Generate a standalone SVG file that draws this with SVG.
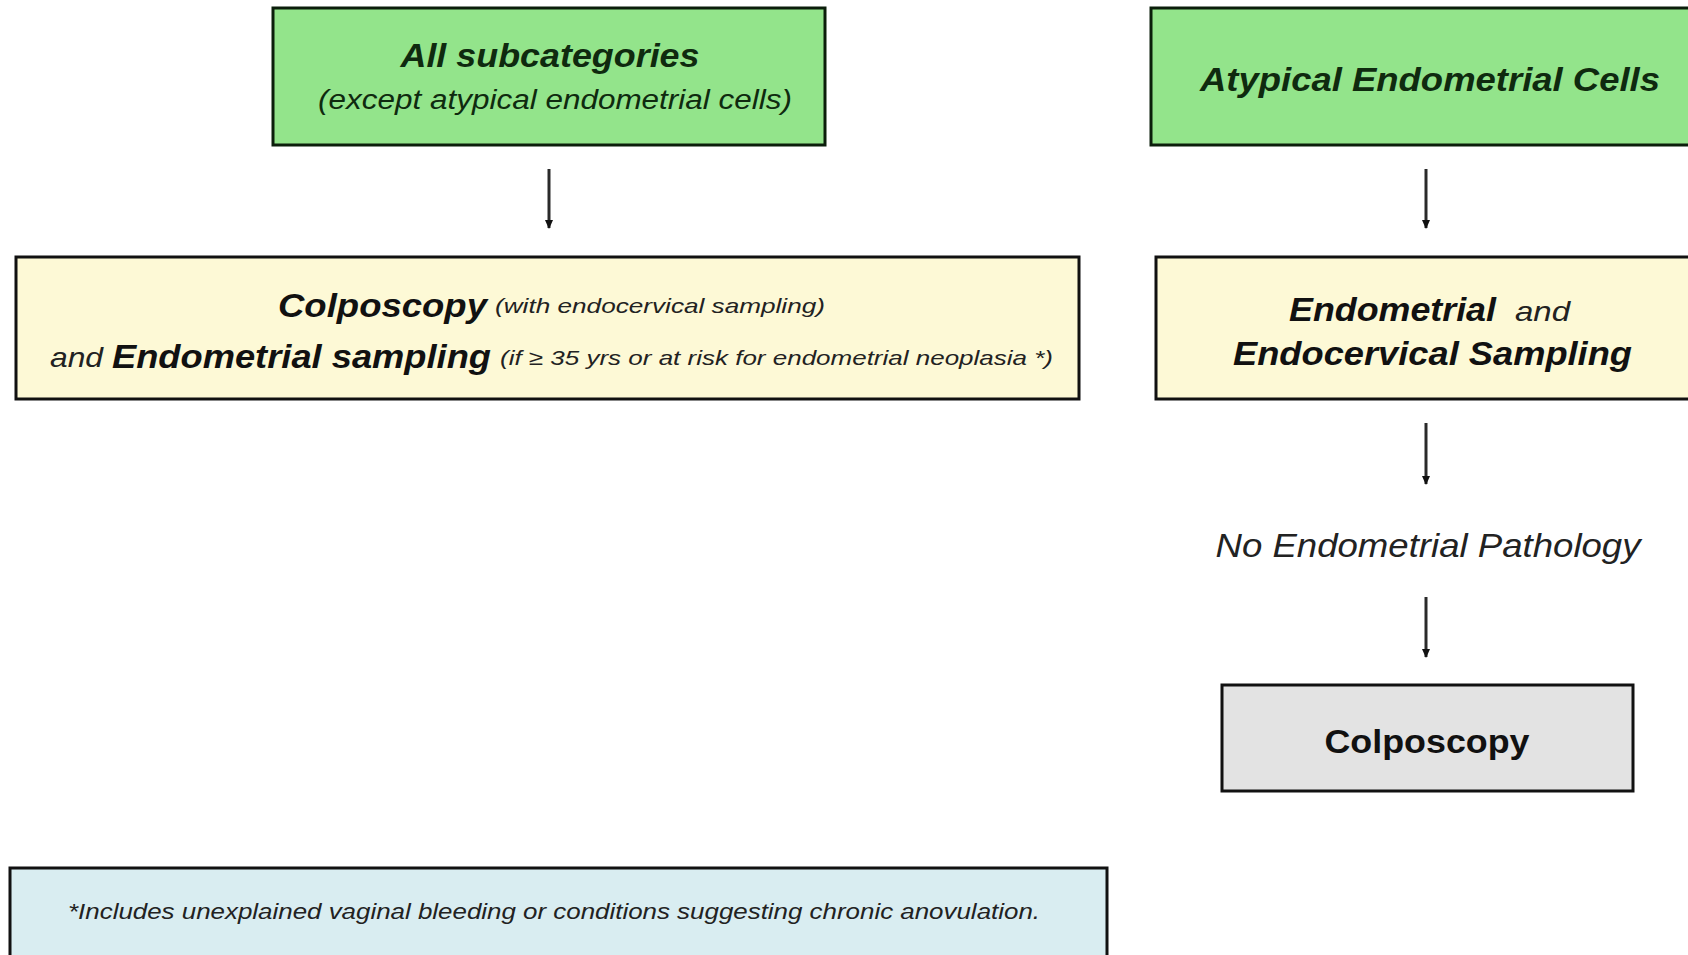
<svg xmlns="http://www.w3.org/2000/svg" width="1688" height="955" viewBox="0 0 1688 955">
<style>
text{font-family:"Liberation Sans",Arial,sans-serif;}
.green{fill:#93e48b;stroke:#0b1e0b;stroke-width:3;}
.yellow{fill:#fdf9d6;stroke:#111;stroke-width:3;}
.grey{fill:#e3e3e3;stroke:#111;stroke-width:3;}
.blue{fill:#d9edf1;stroke:#111;stroke-width:3;}
.gt{fill:#0f2a0f;font-style:italic;}
.bi{font-weight:bold;font-style:italic;fill:#111;}
.it{font-style:italic;fill:#222;}
.conn{stroke:#2a2a2a;stroke-width:3;fill:none;marker-end:url(#ah);}
</style>
<defs>
<marker id="ah" markerWidth="9" markerHeight="8" refX="8" refY="4" orient="auto" markerUnits="userSpaceOnUse" viewBox="0 0 9 8">
<path d="M0,0 L9,4 L0,8 Z" fill="#111"/>
</marker>
</defs>
<rect width="1688" height="955" fill="#fff"/>
<g id="connectors">
<line class="conn" x1="549" y1="169" x2="549" y2="228"/>
<line class="conn" x1="1426" y1="169" x2="1426" y2="228"/>
<line class="conn" x1="1426" y1="423" x2="1426" y2="484"/>
<line class="conn" x1="1426" y1="597" x2="1426" y2="657"/>
</g>
<g id="all-subcategories">
<rect class="green" x="273" y="8" width="552" height="137"/>
<text class="gt" x="550" y="67" font-size="34" font-weight="bold" text-anchor="middle" textLength="299" lengthAdjust="spacingAndGlyphs">All subcategories</text>
<text class="gt" x="555" y="109" font-size="27" text-anchor="middle" textLength="474" lengthAdjust="spacingAndGlyphs">(except atypical endometrial cells)</text>
</g>
<g id="colposcopy-endometrial">
<rect class="yellow" x="16" y="257" width="1063" height="142"/>
<text class="bi" x="278" y="317" font-size="33" textLength="209" lengthAdjust="spacingAndGlyphs">Colposcopy</text>
<text class="it" x="495" y="313" font-size="21" textLength="330" lengthAdjust="spacingAndGlyphs">(with endocervical sampling)</text>
<text class="it" x="50" y="367" font-size="28" textLength="53" lengthAdjust="spacingAndGlyphs">and</text>
<text class="bi" x="112" y="368" font-size="33" textLength="379" lengthAdjust="spacingAndGlyphs">Endometrial sampling</text>
<text class="it" x="500" y="365" font-size="21" textLength="553" lengthAdjust="spacingAndGlyphs">(if ≥ 35 yrs or at risk for endometrial neoplasia *)</text>
</g>
<g id="atypical-endometrial-cells">
<rect class="green" x="1151" y="8" width="560" height="137"/>
<text class="gt" x="1430" y="91" font-size="34" font-weight="bold" text-anchor="middle" textLength="460" lengthAdjust="spacingAndGlyphs">Atypical Endometrial Cells</text>
</g>
<g id="endometrial-endocervical">
<rect class="yellow" x="1156" y="257" width="560" height="142"/>
<text class="bi" x="1289" y="321" font-size="33" textLength="207" lengthAdjust="spacingAndGlyphs">Endometrial</text>
<text class="it" x="1515" y="321" font-size="28" textLength="55" lengthAdjust="spacingAndGlyphs">and</text>
<text class="bi" x="1233" y="365" font-size="33" textLength="399" lengthAdjust="spacingAndGlyphs">Endocervical Sampling</text>
</g>
<g id="no-endometrial-pathology">
<text class="it" x="1428" y="557" font-size="34" text-anchor="middle" textLength="425" lengthAdjust="spacingAndGlyphs">No Endometrial Pathology</text>
</g>
<g id="colposcopy">
<rect class="grey" x="1222" y="685" width="411" height="106"/>
<text x="1427" y="753" font-size="34" font-weight="bold" fill="#111" text-anchor="middle" textLength="205" lengthAdjust="spacingAndGlyphs">Colposcopy</text>
</g>
<g id="footnote">
<rect class="blue" x="10" y="868" width="1097" height="100"/>
<text class="it" x="554" y="919" font-size="22" text-anchor="middle" textLength="972" lengthAdjust="spacingAndGlyphs">*Includes unexplained vaginal bleeding or conditions suggesting chronic anovulation.</text>
</g>
</svg>
